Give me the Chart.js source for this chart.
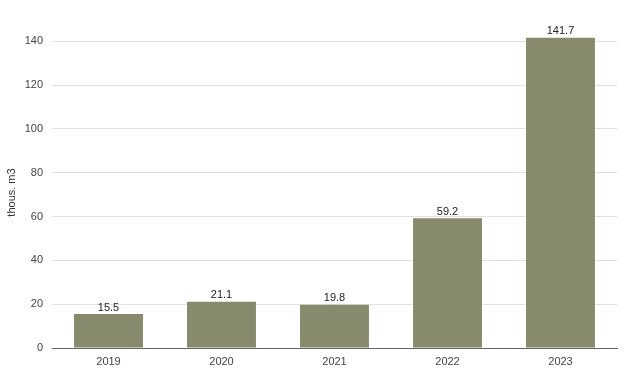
<!DOCTYPE html>
<html>
<head>
<meta charset="utf-8">
<script src="https://cdn.jsdelivr.net/npm/chart.js@4.4.0/dist/chart.umd.min.js"></script>
<style>
  html, body { margin: 0; padding: 0; background: #ffffff; }
  #wrap { width: 624px; height: 380px; position: relative; }
</style>
</head>
<body>
<div id="wrap"><canvas id="chart"></canvas></div>
<script>
// --- DATA ---
const years = ['2019', '2020', '2021', '2022', '2023'];
const volumes = [15.5, 21.1, 19.8, 59.2, 141.7];
const yTicks = [0, 20, 40, 60, 80, 100, 120, 140];
const yTitle = 'thous. m3';

const barColor = '#878a6c';
const fontFamily = 'Arial, "Liberation Sans", sans-serif';

// draws the value above each bar
const valueLabels = {
    id: 'valueLabels',
    afterDatasetsDraw(chart) {
        const ctx = chart.ctx;
        const meta = chart.getDatasetMeta(0);
        ctx.save();
        ctx.font = '11px ' + fontFamily;
        ctx.fillStyle = '#222222';
        ctx.textAlign = 'center';
        ctx.textBaseline = 'bottom';
        meta.data.forEach((bar, i) => {
            ctx.fillText(volumes[i].toFixed(1), bar.x, bar.y - 1);
        });
        ctx.restore();
    }
};

new Chart(document.getElementById('chart'), {
    type: 'bar',
    data: {
        labels: years,
        datasets: [{
            data: volumes,
            backgroundColor: barColor,
            borderWidth: 0,
            categoryPercentage: 1,
            barPercentage: 0.61
        }]
    },
    options: {
        responsive: true,
        maintainAspectRatio: false,
        animation: false,
        layout: { padding: { top: 37, right: 7, bottom: 0, left: 0 } },
        plugins: {
            legend: { display: false },
            tooltip: { enabled: false }
        },
        scales: {
            x: {
                grid: { display: false, drawTicks: false },
                border: { display: true, color: '#666666', width: 1 },
                ticks: {
                    color: '#444444',
                    font: { family: fontFamily, size: 11 },
                    padding: 7
                },
                afterFit: scale => { scale.height = 32; }
            },
            y: {
                min: 0,
                max: 142,
                grid: { color: '#e2e2e2', drawTicks: false },
                border: { display: false },
                afterBuildTicks: scale => {
                    scale.ticks = yTicks.map(v => ({ value: v }));
                },
                ticks: {
                    color: '#444444',
                    font: { family: fontFamily, size: 11 },
                    padding: 9
                },
                title: {
                    display: true,
                    text: yTitle,
                    color: '#333333',
                    font: { family: fontFamily, size: 11 },
                    padding: { top: 5, bottom: 0 }
                },
                afterFit: scale => { scale.width = 52; }
            }
        }
    },
    plugins: [valueLabels]
});
</script>
</body>
</html>
